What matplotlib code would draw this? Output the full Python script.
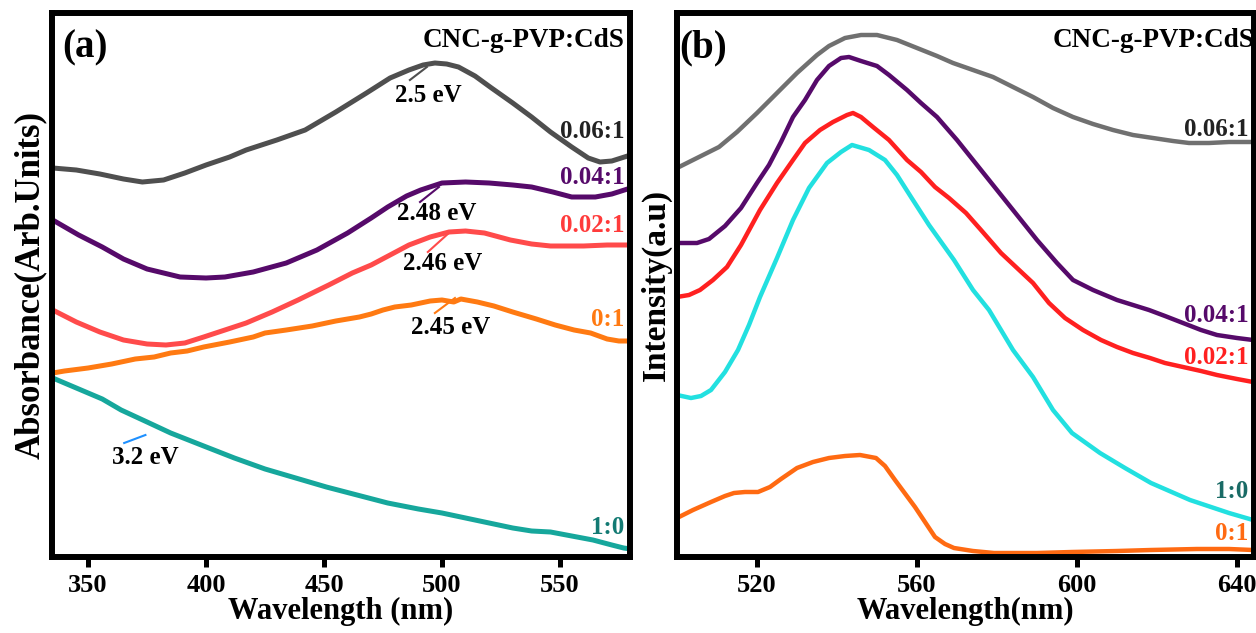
import numpy as np
import matplotlib
matplotlib.use("Agg")
import matplotlib.pyplot as plt

plt.rcParams['font.family'] = ['Liberation Serif', 'DejaVu Serif']
plt.rcParams['font.weight'] = 'bold'

# panel (a) - absorbance
wlGray = [335, 345, 355, 365, 373, 382, 391, 400, 410, 417, 430, 442, 455, 468, 478, 486, 492, 497, 502, 507,
          514, 521, 530, 538, 546, 555, 562, 567, 572, 576, 580]
absGray = [389, 387, 383, 378, 375, 377, 384, 392, 400, 407, 417, 427, 445, 464, 479, 487, 492, 494, 493, 490,
           481, 469, 454, 440, 425, 410, 399, 395, 396, 399, 402]

wlPurple = [335, 346, 356, 365, 375, 389, 400, 408, 420, 434, 447, 460, 470, 477, 485, 491, 500, 510, 520, 530,
            538, 547, 555, 565, 572, 580]
absPurple = [337, 322, 310, 298, 288, 280, 279, 280, 285, 294, 307, 324, 339, 350, 361, 367, 374, 375, 374, 372,
             370, 365, 360, 360, 363, 369]

wlRed = [335, 345, 355, 365, 375, 383, 391, 399, 408, 417, 428, 439, 452, 462, 470, 478, 486, 495, 503, 510,
         518, 529, 538, 546, 560, 570, 580]
absRed = [247, 235, 225, 217, 213, 212, 214, 220, 227, 234, 245, 257, 272, 284, 292, 302, 312, 320, 325, 326,
          324, 317, 313, 311, 311, 312, 312]

wlOrange = [335, 340, 350, 360, 370, 378, 385, 392, 399, 410, 420, 425, 434, 445, 455, 465, 470, 475, 480, 487,
            495, 500, 505, 508, 515, 522, 530, 540, 548, 556, 563, 570, 575, 580]
absOrange = [184, 186, 189, 193, 198, 200, 204, 206, 210, 215, 220, 224, 227, 231, 236, 240, 243, 247, 250, 252,
             256, 257, 255, 258, 255, 251, 245, 238, 232, 227, 224, 218, 216, 216]

wlTeal = [335, 347, 356, 364, 375, 385, 399, 412, 425, 438, 451, 464, 477, 490, 500, 510, 520, 530, 538, 546,
          555, 564, 572, 577, 580]
absTeal = [179, 167, 158, 147, 135, 124, 111, 99, 88, 79, 70, 62, 54, 48, 44, 39, 34, 29, 26, 25,
           21, 17, 12, 9, 8]

# panel (b) - photoluminescence
wlGrayB = [500, 505, 510.5, 515, 520, 525, 530, 535, 538, 542, 546, 550, 555, 560, 565, 569, 574, 579, 584, 589,
           594, 599, 604, 609, 614, 619, 624, 628, 633, 638, 644]
intGrayB = [389, 399, 410, 425, 444, 464, 484, 502, 511, 519, 522, 522, 517, 509, 501, 494, 487, 480, 470, 460,
            449, 440, 433, 427, 422, 419, 416, 414, 414, 415, 415]

wlPurpleB = [500, 505, 508, 512, 516, 520, 523, 526, 529, 532, 535, 538, 541, 543, 546, 550, 553, 557.5, 561, 565,
             570, 574, 579, 584, 590, 595, 599, 604, 610, 614, 618, 622, 626.5, 631, 635, 640, 644]
intPurpleB = [314, 314, 318, 331, 349, 374, 392, 415, 440, 457, 477, 491, 499, 500, 496, 491, 482, 467, 454, 440,
              417, 397, 372, 347, 317, 294, 277, 267, 257, 252, 247, 241, 234, 227, 222, 219, 217]

wlRedB = [500, 503, 505.75, 509, 512.5, 516, 520.75, 525, 529, 532, 535.75, 539, 542.5, 544, 546, 549, 553, 557.5,
          561, 564.5, 568, 572.25, 576, 581, 585, 589, 593, 597, 601.5, 606, 610, 614, 618.25, 622, 626.5, 631, 635,
          640, 644]
intRedB = [260, 262, 267, 277, 290, 312, 347, 374, 397, 414, 427, 435, 442, 444, 440, 430, 417, 397,
           385, 370, 359, 344, 327, 304, 289, 274, 254, 239, 227, 217, 210, 204, 199, 194, 190, 186, 182,
           178, 175]

wlCyanB = [500, 503.5, 506, 508.5, 512, 515.25, 518, 520.75, 525, 529, 533, 537.5, 541, 543.75, 548, 552, 555,
           558.5, 563, 569.25, 574, 578, 584, 589, 594, 598.75, 605.75, 612, 618.5, 628.25, 638, 644]
intCyanB = [162, 159, 161, 167, 185, 207, 232, 260, 299, 337, 369, 394, 405, 412, 407, 397, 382,
            360, 332, 297, 267, 247, 207, 180, 147, 124, 104, 89, 74, 57, 44, 37]

wlOrangeB = [500, 504, 508.5, 512, 514.25, 517, 520.25, 523.25, 526, 530, 534, 538, 542, 545.75, 549.75, 552,
             554.5, 559.5, 564.5, 567, 569.25, 574, 579.25, 590, 598.75, 610, 618.5, 630, 638, 644]
intOrangeB = [39, 47, 55, 61, 64, 65, 65, 70, 78, 89, 95, 99, 101, 102, 99, 91,
              77, 50, 20, 13, 9, 6, 4, 4, 5, 6, 7, 8, 8, 7]

seriesLabels = ['0.06:1', '0.04:1', '0.02:1', '0:1', '1:0']


def styleAxis(ax, xlim, ticks, xlabel, ylabel, ysize):
    ax.set_xlim(*xlim)
    ax.set_ylim(0, 544)
    ax.set_xticks(ticks)
    ax.set_yticks([])
    for s in ax.spines.values():
        s.set_linewidth(4.3)
    ax.tick_params(axis='x', direction='out', length=7, width=3.6, labelsize=19, pad=5)
    for lab in ax.get_xticklabels():
        lab.set_fontweight('bold')
    ax.set_xlabel(xlabel, fontsize=22, fontweight='bold', labelpad=0)
    ax.set_ylabel(ylabel, fontsize=ysize, fontweight='bold', labelpad=4)


fig = plt.figure(figsize=(12.56, 6.33), dpi=100)
axA = fig.add_axes([52 / 1256, 1 - 557 / 633, 578 / 1256, 544 / 633])
axB = fig.add_axes([677 / 1256, 1 - 557 / 633, 577 / 1256, 544 / 633])

# (a)
axA.plot(wlGray, absGray, color='#4f4f4f', lw=3.6)
axA.plot(wlPurple, absPurple, color='#560a6a', lw=3.6)
axA.plot(wlRed, absRed, color='#ff4b4b', lw=3.6)
axA.plot(wlOrange, absOrange, color='#ff7a12', lw=3.6)
axA.plot(wlTeal, absTeal, color='#16a79c', lw=3.6)
styleAxis(axA, (334.7, 579.7), [350, 400, 450, 500, 550], 'Wavelength (nm)', 'Absorbance(Arb.Units)', 25)

# band gap markers
gaps = [('2.5 eV', (486.4, 477), (493.6, 490), (494.1, 462), '#4f4f4f'),
        ('2.48 eV', (490.7, 355), (498.7, 370), (497.9, 344), '#560a6a'),
        ('2.46 eV', (494.0, 305), (503.4, 325), (500.4, 294), '#ff4b4b'),
        ('2.45 eV', (497.0, 244), (505.5, 259), (503.8, 230), '#ff7a12'),
        ('3.2 eV', (365.3, 114), (374.3, 122), (374.2, 100), '#1e90ff')]
for txt, p0, p1, pt, c in gaps:
    axA.plot([p0[0], p1[0]], [p0[1], p1[1]], color=c, lw=1.5)
    axA.text(pt[0], pt[1], txt, fontsize=18, fontweight='bold', ha='center', va='center')

labColA = ['#222222', '#560a6a', '#ff3b3b', '#ff7a12', '#137a73']
labYA = [426, 379, 331, 237, 30]
for t, c, y in zip(seriesLabels, labColA, labYA):
    axA.text(0.99, y / 544, t, color=c, fontsize=18, fontweight='bold', ha='right', va='center',
             transform=axA.transAxes)
axA.text(0.99, 0.95, 'CNC-g-PVP:CdS', fontsize=19.5, fontweight='bold', ha='right', va='center',
         transform=axA.transAxes)
axA.text(0.057, 0.935, '(a)', fontsize=28, fontweight='bold', ha='center', va='center',
         transform=axA.transAxes)

# (b)
axB.plot(wlGrayB, intGrayB, color='#707070', lw=3.2)
axB.plot(wlPurpleB, intPurpleB, color='#560a6a', lw=3.2)
axB.plot(wlRedB, intRedB, color='#ff2020', lw=3.2)
axB.plot(wlCyanB, intCyanB, color='#22e0e0', lw=3.2)
axB.plot(wlOrangeB, intOrangeB, color='#ff6a12', lw=3.2)
styleAxis(axB, (500, 644.25), [520, 560, 600, 640], 'Wavelength(nm)', 'Intensity(a.u)', 24)

labColB = ['#222222', '#560a6a', '#ff2020', '#ff6a12', '#1a6b66']
labYB = [428, 242, 200, 23, 66]
for t, c, y in zip(seriesLabels, labColB, labYB):
    axB.text(0.99, y / 544, t, color=c, fontsize=18, fontweight='bold', ha='right', va='center',
             transform=axB.transAxes)
axB.text(1.0, 0.95, 'CNC-g-PVP:CdS', fontsize=19.5, fontweight='bold', ha='right', va='center',
         transform=axB.transAxes)
axB.text(0.045, 0.935, '(b)', fontsize=28, fontweight='bold', ha='center', va='center',
         transform=axB.transAxes)

fig.savefig('out.png', dpi=100)
